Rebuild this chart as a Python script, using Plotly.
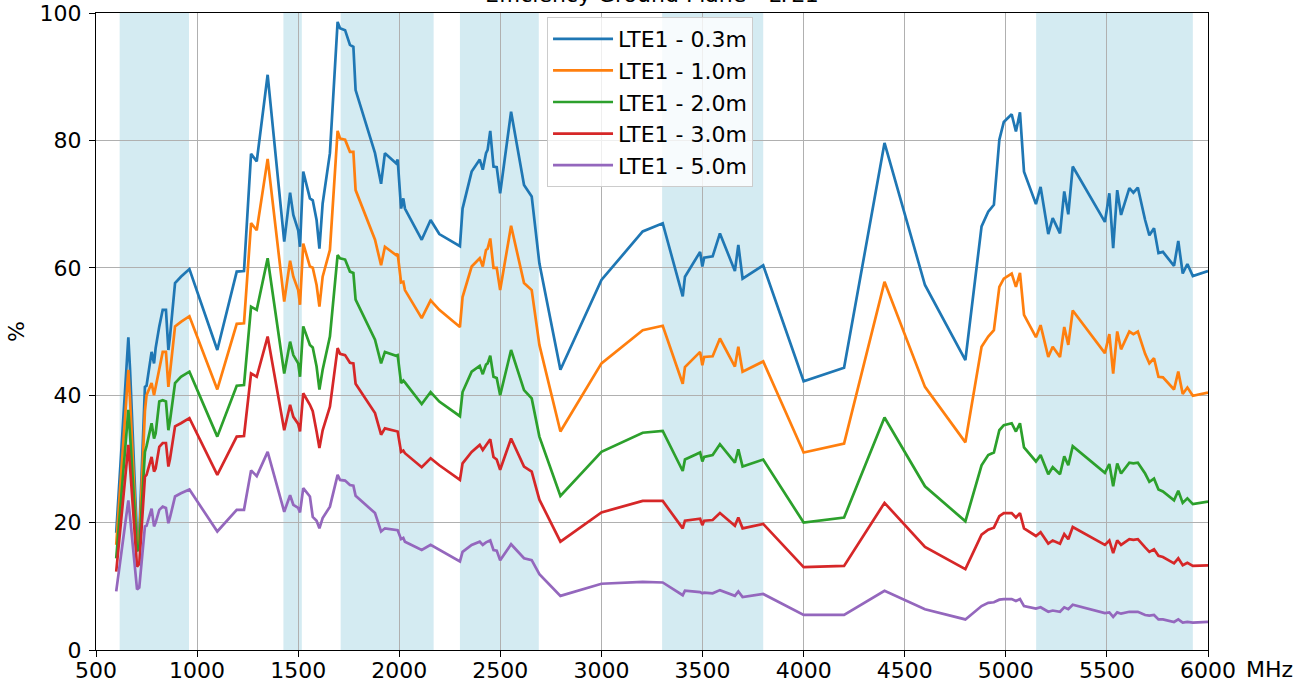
import plotly.graph_objects as go

# Frequency points (MHz)
freq_mhz = [
    600, 660, 668, 703, 714, 742, 750, 775, 787, 795, 813, 830, 846, 858, 866,
    891, 920, 962, 1100, 1196, 1232, 1267, 1295, 1349, 1431, 1460, 1476, 1500,
    1509, 1525, 1558, 1572, 1591, 1605, 1621, 1657, 1695, 1707, 1732, 1756,
    1773, 1784, 1880, 1910, 1929, 1984, 1992, 2009, 2020, 2028, 2111, 2155,
    2198, 2300, 2313, 2358, 2398, 2413, 2429, 2437, 2450, 2466, 2482, 2499,
    2553, 2617, 2655, 2693, 2797, 3000, 3204, 3303, 3402, 3413, 3488, 3499,
    3508, 3550, 3586, 3660, 3677, 3698, 3800, 4000, 4200, 4400, 4600, 4800,
    4880, 4913, 4941, 4968, 4990, 5029, 5050, 5070, 5090, 5149, 5172, 5210,
    5232, 5268, 5289, 5309, 5331, 5490, 5512, 5531, 5551, 5570, 5611, 5631,
    5653, 5689, 5710, 5733, 5755, 5777, 5832, 5853, 5875, 5898, 5925, 6000,
]

eff_0_3m = [
    18.4, 49.1, 44.3, 17.5, 18.0, 41.3, 41.5, 46.8, 45.0, 47.4, 50.8, 53.4, 53.4, 47.1, 49.2,
    57.6, 58.6, 59.8, 47.1, 59.4, 59.5, 77.9, 76.7, 90.3, 64.1, 71.8, 68.3, 65.9,
    63.3, 75.1, 70.9, 70.6, 67.5, 63.0, 70.1, 78.0, 98.6, 97.6, 97.3, 95.0,
    94.7, 87.9, 78.0, 73.2, 78.0, 76.4, 77.0, 69.3, 70.9, 69.3, 64.4, 67.5,
    65.3, 63.4, 69.3, 75.1, 77.0, 75.4, 78.0, 78.5, 81.5, 75.9, 75.8, 71.7,
    84.5, 73.0, 71.2, 60.7, 44.0, 58.1, 65.7, 67.0, 55.5, 58.6, 62.5, 60.2,
    61.6, 61.8, 65.4, 59.5, 63.6, 58.3, 60.4, 42.2, 44.3, 79.6, 57.3, 45.5,
    66.5, 68.8, 69.9, 80.1, 82.9, 84.1, 81.4, 84.4, 75.1, 70.0, 72.7, 65.3,
    67.8, 65.4, 72.0, 68.4, 75.9, 67.2, 71.7, 63.1, 72.2, 68.3, 72.5, 71.8,
    72.6, 67.5, 65.1, 66.2, 62.3, 62.5, 60.3, 64.2, 59.1, 60.6, 58.7, 59.5,
]

eff_1_0m = [
    16.5, 44.0, 39.5, 16.0, 17.0, 37.5, 40.0, 41.9, 40.0, 41.3, 44.0, 46.8, 46.8, 41.3, 43.5,
    50.8, 51.5, 52.4, 40.9, 51.2, 51.3, 67.0, 65.9, 77.1, 54.7, 61.1, 58.6, 56.5,
    54.2, 63.8, 60.2, 60.0, 57.3, 53.9, 58.6, 62.8, 81.5, 80.3, 80.1, 78.2,
    78.2, 72.2, 64.4, 60.4, 63.3, 62.0, 62.2, 57.7, 57.8, 56.5, 52.1, 54.9,
    53.4, 50.7, 55.4, 60.2, 61.5, 60.2, 62.8, 63.0, 64.6, 60.0, 60.0, 56.5,
    66.6, 57.6, 56.5, 47.9, 34.3, 45.0, 50.2, 50.9, 41.8, 44.4, 46.8, 44.7,
    46.0, 46.1, 48.9, 44.5, 47.6, 43.7, 45.3, 31.0, 32.4, 57.8, 41.3, 32.6,
    47.6, 49.2, 50.2, 57.0, 58.3, 59.1, 57.0, 59.2, 52.6, 49.1, 51.0, 46.0,
    47.6, 46.0, 50.7, 47.9, 53.3, 46.6, 49.6, 43.4, 50.0, 47.2, 50.0, 49.6,
    50.0, 46.5, 45.0, 45.8, 42.9, 42.8, 40.9, 43.7, 40.2, 41.2, 39.9, 40.4,
]

eff_2_0m = [
    14.4, 37.7, 34.0, 15.5, 16.0, 31.1, 32.0, 35.6, 33.2, 34.0, 39.0, 39.2, 39.0, 34.5, 36.0,
    41.9, 42.9, 43.7, 33.5, 41.5, 41.6, 53.9, 53.4, 61.5, 43.4, 48.4, 46.3, 45.0,
    42.9, 50.8, 47.9, 47.5, 44.5, 40.9, 44.0, 49.2, 62.0, 61.5, 61.3, 59.4,
    59.2, 55.0, 48.7, 45.0, 46.8, 46.2, 46.3, 41.9, 42.3, 42.0, 38.6, 40.5,
    39.0, 36.7, 40.5, 43.7, 44.6, 43.3, 44.8, 45.0, 46.2, 42.9, 42.7, 40.0,
    47.1, 40.8, 39.5, 33.5, 24.2, 31.1, 34.1, 34.4, 28.1, 29.9, 31.0, 29.6,
    30.3, 30.6, 32.3, 29.4, 31.5, 28.8, 29.9, 20.0, 20.8, 36.5, 25.7, 20.2,
    29.0, 30.6, 31.0, 34.5, 35.3, 35.6, 34.3, 35.6, 31.8, 29.6, 30.6, 27.6,
    28.7, 27.6, 30.4, 29.0, 32.0, 27.8, 29.2, 25.7, 29.3, 27.7, 29.4, 29.3,
    29.4, 27.7, 26.4, 26.9, 25.2, 24.9, 23.5, 25.0, 23.1, 23.8, 22.9, 23.3,
]

eff_3_0m = [
    12.3, 32.2, 29.0, 13.1, 13.5, 27.2, 27.5, 30.3, 28.0, 28.5, 31.9, 32.5, 32.5, 28.8, 30.0,
    35.1, 35.6, 36.4, 27.5, 33.5, 33.6, 43.4, 42.9, 49.2, 34.5, 38.5, 36.6, 35.5,
    34.3, 40.3, 38.5, 37.5, 34.3, 31.7, 34.5, 38.2, 47.4, 46.5, 46.3, 45.1,
    45.0, 41.8, 37.2, 33.8, 34.8, 34.3, 34.3, 31.1, 31.3, 30.9, 28.7, 30.1,
    29.0, 26.7, 29.3, 31.1, 32.2, 31.4, 32.2, 32.4, 33.1, 30.3, 29.9, 28.3,
    33.2, 28.8, 28.0, 23.6, 17.0, 21.6, 23.4, 23.4, 19.1, 20.3, 20.6, 19.6,
    20.3, 20.4, 21.5, 19.5, 20.8, 19.1, 19.8, 13.0, 13.2, 23.1, 16.2, 12.7,
    18.1, 18.9, 19.2, 21.0, 21.5, 21.5, 20.8, 21.5, 19.1, 17.9, 18.5, 16.7,
    17.2, 16.7, 18.2, 17.4, 19.3, 16.5, 17.2, 15.2, 17.2, 16.5, 17.4, 17.3,
    17.4, 16.1, 15.4, 15.8, 14.8, 14.6, 13.6, 14.4, 13.3, 13.7, 13.2, 13.3,
]

eff_5_0m = [
    9.2, 23.5, 21.0, 9.5, 9.8, 19.4, 19.5, 22.2, 19.4, 20.0, 22.0, 22.5, 22.3, 19.9, 20.8,
    24.1, 24.6, 25.2, 18.6, 22.0, 22.0, 28.2, 27.3, 31.1, 21.7, 24.3, 22.8, 22.3,
    21.6, 25.4, 24.1, 20.9, 20.3, 19.1, 20.7, 22.5, 27.5, 26.7, 26.6, 25.9,
    25.8, 24.2, 21.5, 18.6, 19.1, 18.8, 18.8, 17.4, 17.6, 17.0, 15.7, 16.5,
    15.7, 13.9, 15.4, 16.5, 17.0, 16.5, 16.9, 17.0, 17.2, 15.7, 15.6, 14.1,
    16.6, 14.4, 14.1, 11.9, 8.5, 10.4, 10.7, 10.6, 8.6, 9.3, 9.1, 8.9,
    9.0, 8.9, 9.4, 8.5, 9.2, 8.3, 8.8, 5.5, 5.5, 9.3, 6.4, 4.8,
    6.9, 7.4, 7.5, 7.9, 8.0, 8.0, 7.7, 8.0, 6.9, 6.5, 6.7, 6.0,
    6.2, 6.0, 6.7, 6.4, 7.1, 5.8, 5.9, 5.2, 5.9, 5.7, 6.0, 6.0,
    6.0, 5.5, 5.4, 5.5, 4.8, 4.8, 4.4, 4.8, 4.3, 4.4, 4.3, 4.4,
]

series_names = ["LTE1 - 0.3m", "LTE1 - 1.0m", "LTE1 - 2.0m", "LTE1 - 3.0m", "LTE1 - 5.0m"]
series_values = [eff_0_3m, eff_1_0m, eff_2_0m, eff_3_0m, eff_5_0m]
series_colors = ["#1f77b4", "#ff7f0e", "#2ca02c", "#d62728", "#9467bd"]

# LTE frequency bands highlighted behind the curves (MHz)
band_starts = [617, 1427, 1710, 2300, 3300, 5150]
band_ends = [960, 1518, 2170, 2690, 3800, 5925]

x_ticks = [500, 1000, 1500, 2000, 2500, 3000, 3500, 4000, 4500, 5000, 5500, 6000]
y_ticks = [0, 20, 40, 60, 80, 100]

FONT = "DejaVu Sans"
FS = 22

fig = go.Figure()

for name, vals, col in zip(series_names, series_values, series_colors):
    fig.add_trace(go.Scatter(
        x=freq_mhz, y=vals, mode="lines", name=name,
        line=dict(color=col, width=2.7),
    ))

for x0, x1 in zip(band_starts, band_ends):
    fig.add_shape(type="rect", xref="x", yref="y", x0=x0, x1=x1, y0=0, y1=100,
                  fillcolor="rgba(173,216,230,0.52)", line=dict(width=0), layer="below")

axis_common = dict(
    showline=True, linecolor="black", linewidth=1.3, mirror=True,
    ticks="outside", ticklen=6, tickwidth=1.2, tickcolor="black",
    showgrid=True, gridcolor="#b0b0b0", gridwidth=1, zeroline=False,
    automargin=False,
    tickfont=dict(family=FONT, size=FS, color="black"),
)

fig.update_xaxes(range=[500, 6000], tickvals=x_ticks, ticklabelstandoff=-6, **axis_common)
fig.update_yaxes(range=[0, 100], tickvals=y_ticks, ticklabelstandoff=3,
                 title=dict(text="%", font=dict(family=FONT, size=FS, color="black"), standoff=8),
                 **axis_common)

fig.add_annotation(text="MHz", xref="paper", yref="paper", x=1.032, y=-0.03,
                   xanchor="left", yanchor="middle", showarrow=False,
                   font=dict(family=FONT, size=FS, color="black"))

fig.add_annotation(text="Efficiency Ground Plane - LTE1", xref="paper", yref="paper",
                   x=0.5, y=1.0063, xanchor="center", yanchor="bottom", showarrow=False,
                   font=dict(family=FONT, size=FS, color="black"))

fig.update_layout(
    width=1305, height=690,
    margin=dict(l=96, r=97, t=13, b=40, autoexpand=False),
    paper_bgcolor="white", plot_bgcolor="white",
    font=dict(family=FONT, size=FS, color="black"),
    legend=dict(
        x=0.4056, y=0.9937, xanchor="left", yanchor="top",
        bgcolor="rgba(255,255,255,0.8)", bordercolor="#cccccc", borderwidth=1,
        font=dict(family=FONT, size=FS, color="black"),
        itemwidth=60,
    ),
)

fig.write_html("out.html")
